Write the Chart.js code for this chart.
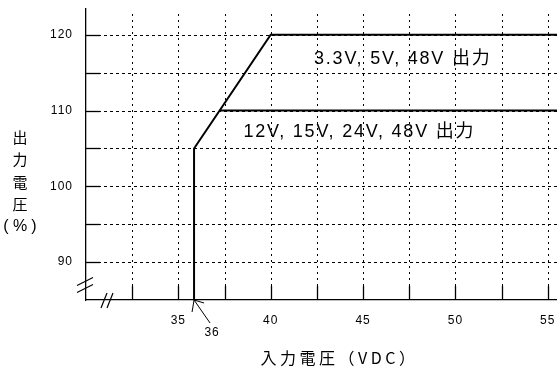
<!DOCTYPE html>
<html><head><meta charset="utf-8">
<script src="https://cdn.jsdelivr.net/npm/chart.js@4"></script>
<style>html,body{margin:0;padding:0;background:#fff;}#wrap{width:557px;height:370px;position:relative;}</style>
</head><body><div id="wrap"><canvas id="c"></canvas></div>
<script>
// ---- data ----
const xMin = 30, xMax = 55.5, yMin = 85, yMax = 123.4;
const xGridValues = [32.5, 35, 37.5, 40, 42.5, 45, 47.5, 50, 52.5, 55];
const xTickLabels = ['35', '40', '45', '50', '55'];
const yGridValues = [90, 95, 100, 105, 110, 115, 120];
const yTickLabels = ['90', '100', '110', '120'];
const seriesAX = [35.85, 35.85, 40, 55.5];
const seriesAY = [85, 105, 120, 120];
const seriesBX = [37.23, 55.5];
const seriesBY = [110, 110];
const labelA = '3.3V, 5V, 48V 出力';
const labelB = '12V, 15V, 24V, 48V 出力';
const markerLabel = '36';
const xTitle = '入力電圧（VDC）';
const yTitleChars = ['出', '力', '電', '圧'];
const yTitleUnit = ['(', '%', ')'];

const toPts = (xs, ys) => xs.map((x, i) => ({x, y: ys[i]}));
const SANS = '"Liberation Sans", Arial, "Noto Sans CJK JP", sans-serif';
const CJK = '"Noto Sans CJK JP", "Liberation Sans", sans-serif';

const decor = {
  id: 'decor',
  beforeDraw(chart) { chart.ctx.letterSpacing = '1px'; },
  beforeDatasetsDraw(chart) {
    const {ctx, chartArea: a, scales: {x, y}} = chart;
    ctx.save();
    ctx.strokeStyle = '#000';
    ctx.lineWidth = 1;
    ctx.setLineDash([3, 3]);
    yGridValues.forEach(v => {
      const py = Math.round(y.getPixelForValue(v)) + 0.5;
      ctx.beginPath(); ctx.moveTo(a.left, py); ctx.lineTo(a.right, py); ctx.stroke();
    });
    ctx.setLineDash([2, 4]);
    xGridValues.forEach(v => {
      const px = Math.round(x.getPixelForValue(v)) + 0.5;
      ctx.beginPath(); ctx.moveTo(px, a.top + 5); ctx.lineTo(px, a.bottom); ctx.stroke();
    });
    ctx.setLineDash([]);
    ctx.lineWidth = 1.3;
    yGridValues.forEach(v => {
      const py = Math.round(y.getPixelForValue(v)) + 0.5;
      ctx.beginPath(); ctx.moveTo(a.left, py); ctx.lineTo(a.left + 14, py); ctx.stroke();
    });
    xGridValues.forEach(v => {
      const px = Math.round(x.getPixelForValue(v)) + 0.5;
      ctx.beginPath(); ctx.moveTo(px, a.bottom); ctx.lineTo(px, a.bottom - 14); ctx.stroke();
    });
    ctx.restore();
  },
  afterDraw(chart) {
    const {ctx, chartArea: a, scales: {x, y}} = chart;
    ctx.save();
    ctx.strokeStyle = '#000';
    ctx.fillStyle = '#000';
    ctx.lineWidth = 1.2;
    const by = a.bottom - 15;
    [-3.5, 3.5].forEach(d => {
      ctx.beginPath(); ctx.moveTo(a.left - 9, by + d + 4); ctx.lineTo(a.left + 7, by + d - 4); ctx.stroke();
    });
    const bx = a.left + 21;
    [-3, 3].forEach(d => {
      ctx.beginPath(); ctx.moveTo(bx + d - 3, a.bottom + 8); ctx.lineTo(bx + d + 3, a.bottom - 7); ctx.stroke();
    });
    const mx = x.getPixelForValue(seriesAX[0]);
    const my = a.bottom;
    ctx.lineWidth = 1;
    ctx.beginPath(); ctx.moveTo(mx, my); ctx.lineTo(mx + 16, my + 23); ctx.stroke();
    ctx.beginPath(); ctx.moveTo(mx - 2, my + 12); ctx.lineTo(mx, my); ctx.lineTo(mx + 10, my + 3); ctx.stroke();
    ctx.letterSpacing = '1px';
    ctx.font = '12px ' + SANS;
    ctx.textAlign = 'center'; ctx.textBaseline = 'middle';
    ctx.fillText(markerLabel, mx + 18, my + 33);
    ctx.letterSpacing = '1.8px';
    ctx.font = '18px ' + SANS;
    ctx.fillText(labelA, x.getPixelForValue(47.15), y.getPixelForValue(116.8));
    ctx.fillText(labelB, x.getPixelForValue(44.8), y.getPixelForValue(107.1));
    ctx.letterSpacing = '3.5px';
    ctx.font = '16px ' + CJK;
    ctx.fillText(xTitle, (a.left + a.right) / 2 + 18, 358);
    ctx.letterSpacing = '0px';
    ctx.font = '15px ' + CJK;
    yTitleChars.forEach((ch, i) => {
      ctx.fillText(ch, 20, 137 + i * 22.5);
    });
    ctx.font = '16px ' + SANS;
    const ux = [6, 20, 34];
    yTitleUnit.forEach((ch, i) => ctx.fillText(ch, ux[i], 227));
    ctx.restore();
  }
};

new Chart(document.getElementById('c'), {
  type: 'scatter',
  data: {
    datasets: [
      {data: toPts(seriesAX, seriesAY), showLine: true, borderColor: '#000', borderWidth: 2, pointRadius: 0, fill: false, tension: 0},
      {data: toPts(seriesBX, seriesBY), showLine: true, borderColor: '#000', borderWidth: 2, pointRadius: 0, fill: false, tension: 0}
    ]
  },
  options: {
    responsive: true, maintainAspectRatio: false, animation: false,
    layout: {padding: {top: 9, right: 0, left: 0, bottom: 0}},
    plugins: {legend: {display: false}, tooltip: {enabled: false}},
    scales: {
      x: {
        type: 'linear', min: xMin, max: xMax,
        afterFit(s) { s.height = 70; s.paddingLeft = 0; s.paddingRight = 0; },
        grid: {display: false, drawTicks: false},
        border: {display: true, color: '#000', width: 1.3},
        ticks: {
          stepSize: 2.5, autoSkip: false, includeBounds: false, maxRotation: 0, padding: 13, color: '#000',
          font: {size: 12, family: SANS},
          callback: v => xTickLabels.includes(String(v)) ? String(v) : ''
        }
      },
      y: {
        type: 'linear', min: yMin, max: yMax,
        afterFit(s) { s.width = 86; s.paddingTop = 0; s.paddingBottom = 0; },
        grid: {display: false, drawTicks: false},
        border: {display: true, color: '#000', width: 1.3},
        ticks: {
          stepSize: 5, autoSkip: false, includeBounds: false, padding: 13, color: '#000',
          font: {size: 12, family: SANS},
          callback: v => yTickLabels.includes(String(v)) ? String(v) : ''
        }
      }
    }
  },
  plugins: [decor]
});
</script></body></html>
